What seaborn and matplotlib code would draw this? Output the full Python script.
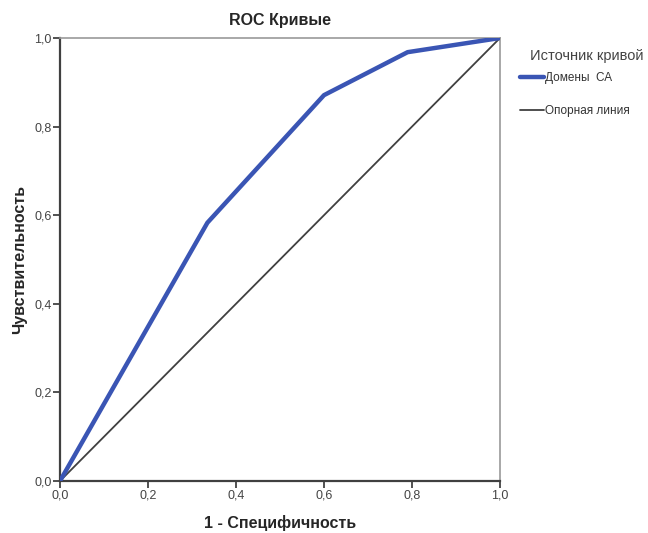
import matplotlib
matplotlib.use("Agg")
import matplotlib.pyplot as plt
import seaborn as sns
import pandas as pd

fpr = [0.0, 0.335, 0.6, 0.79, 1.0]
tpr = [0.0, 0.583, 0.871, 0.968, 1.0]
ref_x = [0.0, 1.0]
ref_y = [0.0, 1.0]
ticks = [0.0, 0.2, 0.4, 0.6, 0.8, 1.0]
tick_labels = ["0,0", "0,2", "0,4", "0,6", "0,8", "1,0"]

sns.set_style("white")
plt.rcParams['font.family'] = ['Liberation Sans', 'DejaVu Sans']

fig = plt.figure(figsize=(6.48, 5.33), dpi=100)
ax = fig.add_axes([60/648, 52/533, 440/648, 443/533])

df_curve = pd.DataFrame({"x": fpr, "y": tpr})
df_ref = pd.DataFrame({"x": ref_x, "y": ref_y})
sns.lineplot(data=df_ref, x="x", y="y", ax=ax, color="#404040", linewidth=1.3,
             label="Опорная линия", sort=False, zorder=2)
sns.lineplot(data=df_curve, x="x", y="y", ax=ax, color="#3a55b4", linewidth=3.2,
             label="Домены  СА", sort=False, zorder=3)

ax.set_xlim(0, 1)
ax.set_ylim(0, 1)
ax.set_xticks(ticks)
ax.set_xticklabels(tick_labels)
ax.set_yticks(ticks)
ax.set_yticklabels(tick_labels)
ax.tick_params(axis="both", direction="out", length=5, width=1.2, color="#333333",
               labelsize=9, labelcolor="#444444", pad=1,
               bottom=True, left=True)
for side in ["left", "bottom"]:
    ax.spines[side].set_color("#404040")
    ax.spines[side].set_linewidth(1.6)
for side in ["top", "right"]:
    ax.spines[side].set_color("#9a9a9a")
    ax.spines[side].set_linewidth(1.2)

ax.set_title("ROC Кривые", fontsize=11.5, fontweight="bold", pad=9)
ax.set_xlabel("1 - Специфичность", fontsize=11.5, fontweight="bold", labelpad=10)
ax.set_ylabel("Чувствительность", fontsize=11.5, fontweight="bold", labelpad=5)

handles, labels = ax.get_legend_handles_labels()
order = [1, 0]
leg = ax.legend([handles[i] for i in order], [labels[i] for i in order],
                title="Источник кривой", loc="upper left",
                bbox_to_anchor=(1.035, 0.985), frameon=False, fontsize=8.5,
                title_fontsize=10.5, handlelength=2.0, handletextpad=0.1,
                labelspacing=1.8, borderaxespad=0)
leg._legend_box.align = "left"
leg._legend_box.sep = 6
for t in leg.get_texts():
    t.set_color("#333333")
leg.get_title().set_color("#444444")
leg.get_title().set_position((10, 0))

fig.savefig("out.png", dpi=100)
